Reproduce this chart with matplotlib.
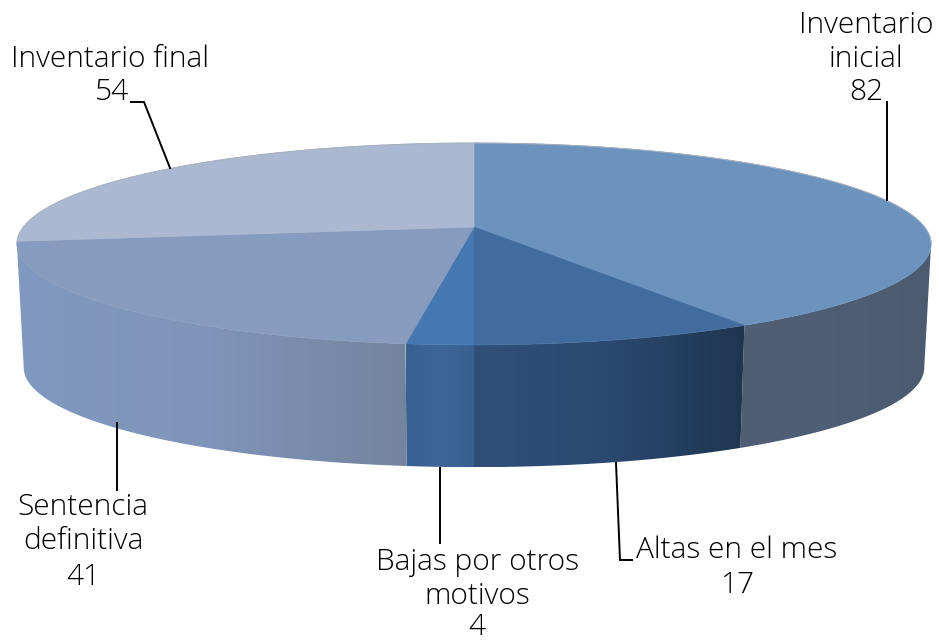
import numpy as np
import matplotlib
matplotlib.use("Agg")
import matplotlib.pyplot as plt
from matplotlib.colors import LinearSegmentedColormap
from matplotlib.patches import Polygon

labels = ["Inventario\ninicial", "Altas en el mes", "Bajas por otros\nmotivos",
          "Sentencia\ndefinitiva", "Inventario final"]
values = [82, 17, 4, 41, 54]
top_colors = ["#6C93BE", "#426C9E", "#4578B0", "#869BBD", "#ABB8D1"]
side_colors = [["#505F75", "#4E5E74", "#4B5B70"],
               ["#30507A", "#2B4870", "#1F3650"],
               ["#3A6192", "#3D6597", "#38608F"],
               ["#8199C0", "#7F94B8", "#74849F"],
               ["#8A9ABB", "#8A9ABB", "#8A9ABB"]]
label_pos = [(866, 25), (737, 550), (477, 562), (83, 507), (110, 59)]
value_pos = [(866, 92), (737, 585), (477, 627), (83, 577), (112, 92)]
leaders = [[(887, 102), (887, 200)],
           [(616, 463), (620, 560), (632, 560)],
           [(440, 468), (440, 543)],
           [(117, 423), (117, 490)],
           [(131, 102), (144, 102), (170, 168)]]

# pie is a circle seen in perspective, values give the real angles
cx, cy = 474, 227
k, a, b = 0.168, 98.1, 450.6
depth_y, shrink = 124, 0.985


def project(theta, lower=False):
    x, y = np.sin(theta), -np.cos(theta)
    d = 1 - k * y
    px, py = b * x / d, a * y / d
    if lower:
        return cx + shrink * px, cy + depth_y + shrink * py
    return cx + px, cy + py


fig = plt.figure(figsize=(9.39, 6.42), dpi=100)
ax = fig.add_axes([0, 0, 1, 1])
ax.axis("off")

edges = 2 * np.pi * np.cumsum([0] + values) / sum(values)

# only the front of the wall shows, between the two silhouette points
front_start = np.arccos(-k)
front_end = 2 * np.pi - front_start

for i in range(len(values)):
    start = max(edges[i], front_start)
    end = min(edges[i + 1], front_end)
    if end <= start:
        continue
    t = np.linspace(start, end, 200)
    ux, uy = project(t)
    lx, ly = project(t, lower=True)
    pts = np.column_stack([np.r_[ux, lx[::-1]], np.r_[uy, ly[::-1]]])
    clip = Polygon(pts, closed=True, transform=ax.transData, fc="none", ec="none")
    ax.add_patch(clip)
    cmap = LinearSegmentedColormap.from_list("side", side_colors[i])
    grad = np.linspace(0, 1, 256).reshape(1, -1)
    im = ax.imshow(grad, cmap=cmap, aspect="auto", zorder=1,
                   extent=(pts[:, 0].min(), pts[:, 0].max(), pts[:, 1].max(), pts[:, 1].min()))
    im.set_clip_path(clip)

for i in range(len(values)):
    t = np.linspace(edges[i], edges[i + 1], 200)
    ux, uy = project(t)
    pts = np.column_stack([np.r_[cx, ux], np.r_[cy, uy]])
    ax.add_patch(Polygon(pts, closed=True, fc=top_colors[i], ec=top_colors[i], lw=0.5, zorder=2))

t = np.linspace(-front_start, front_start, 300)
ux, uy = project(t)
ax.plot(ux, uy, color="#A9B1BE", lw=0.7, zorder=3)

for line in leaders:
    xs, ys = zip(*line)
    ax.plot(xs, ys, color="black", lw=1.4, zorder=4, solid_joinstyle="miter")

font = dict(family="Open Sans", fontweight="light", fontsize=21.5, color="black",
            ha="center", va="center")
for name, value, lp, vp in zip(labels, values, label_pos, value_pos):
    if "\n" in name:
        first, second = name.split("\n")
        ax.text(lp[0], lp[1], first, **font)
        ax.text(lp[0], lp[1] + 34, second, **font)
    else:
        ax.text(lp[0], lp[1], name, **font)
    ax.text(vp[0], vp[1], str(value), **font)

ax.set_xlim(0, 939)
ax.set_ylim(642, 0)
fig.savefig("out.png", dpi=100, facecolor="white")
